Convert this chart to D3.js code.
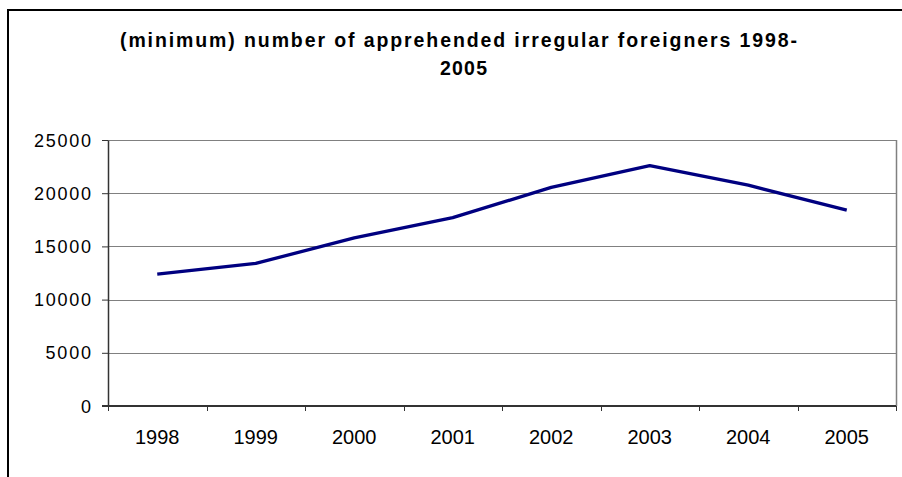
<!DOCTYPE html>
<html>
<head>
<meta charset="utf-8">
<script src="https://cdn.jsdelivr.net/npm/d3@7"></script>
<style>
  html, body { margin: 0; padding: 0; background: #fff; }
  svg { display: block; font-family: Arial, "Liberation Sans", sans-serif; }
</style>
</head>
<body>
<svg id="chart" width="902" height="477"></svg>
<script>
const years = ["1998", "1999", "2000", "2001", "2002", "2003", "2004", "2005"];
const apprehended = [12400, 13400, 15800, 17700, 20550, 22600, 20750, 18400];
const yTicks = [0, 5000, 10000, 15000, 20000, 25000];
const titleLines = ["(minimum) number of apprehended irregular foreigners 1998-", "2005"];

const svg = d3.select("#chart");
const W = 902, H = 477;
const plot = { left: 108, right: 896, top: 140, bottom: 406 };

svg.append("rect").attr("width", W).attr("height", H).attr("fill", "#fff");

// outer chart frame
svg.append("rect")
  .attr("x", 8).attr("y", 10)
  .attr("width", W + 20).attr("height", H + 20)
  .attr("fill", "none").attr("stroke", "#000").attr("stroke-width", 2);

// title
svg.append("text")
  .attr("x", 120).attr("y", 47)
  .attr("font-size", 19.5).attr("font-weight", "bold")
  .attr("textLength", 677).attr("lengthAdjust", "spacing")
  .text(titleLines[0]);
svg.append("text")
  .attr("x", 463.5).attr("y", 75)
  .attr("text-anchor", "middle")
  .attr("font-size", 19.5).attr("font-weight", "bold")
  .attr("textLength", 47).attr("lengthAdjust", "spacing")
  .text(titleLines[1]);

const x = d3.scaleBand().domain(years).range([plot.left, plot.right]).padding(0);
const y = d3.scaleLinear().domain([0, 25000]).range([plot.bottom, plot.top]);

// gridlines
svg.append("g").selectAll("line")
  .data(yTicks.filter(d => d > 0))
  .join("line")
  .attr("x1", plot.left).attr("x2", plot.right)
  .attr("y1", d => Math.round(y(d)) + 0.5).attr("y2", d => Math.round(y(d)) + 0.5)
  .attr("stroke", "#808080").attr("stroke-width", 1);

// right border of plot area
svg.append("line")
  .attr("x1", plot.right + 0.5).attr("x2", plot.right + 0.5)
  .attr("y1", plot.top).attr("y2", plot.bottom)
  .attr("stroke", "#808080").attr("stroke-width", 1.5);

// y axis
const yAxis = d3.axisLeft(y).tickValues(yTicks).tickSize(6).tickSizeOuter(0).tickPadding(11)
  .tickFormat(d3.format("d"));
const gy = svg.append("g").attr("transform", `translate(${plot.left},0)`).call(yAxis);
gy.select(".domain").attr("stroke", "#333").attr("stroke-width", 1.5);
gy.selectAll(".tick line").attr("stroke", "#333");
gy.selectAll(".tick text")
  .attr("font-family", "Arial, 'Liberation Sans', sans-serif")
  .attr("font-size", 18).attr("fill", "#000")
  .attr("dy", "0.34em")
  .attr("textLength", function(d) { return String(d).length * 11.4; })
  .attr("lengthAdjust", "spacing");

// x axis line
svg.append("line")
  .attr("x1", plot.left - 6).attr("x2", plot.right)
  .attr("y1", plot.bottom).attr("y2", plot.bottom)
  .attr("stroke", "#333").attr("stroke-width", 2);

// x ticks at category boundaries
const boundaries = years.map(d => x(d)).concat([x(years[years.length - 1]) + x.bandwidth()]);
svg.append("g").selectAll("line")
  .data(boundaries)
  .join("line")
  .attr("x1", d => Math.round(d) + 0.5).attr("x2", d => Math.round(d) + 0.5)
  .attr("y1", plot.bottom).attr("y2", plot.bottom + 5)
  .attr("stroke", "#333").attr("stroke-width", 1);

// x labels
svg.append("g").selectAll("text")
  .data(years)
  .join("text")
  .attr("x", d => x(d) + x.bandwidth() / 2)
  .attr("y", 444)
  .attr("text-anchor", "middle")
  .attr("font-size", 20)
  .attr("fill", "#000")
  .text(d => d);

// series line
const line = d3.line()
  .x((d, i) => x(years[i]) + x.bandwidth() / 2)
  .y(d => y(d));
svg.append("path")
  .datum(apprehended)
  .attr("d", line)
  .attr("fill", "none")
  .attr("stroke", "#000080")
  .attr("stroke-width", 3.3)
  .attr("stroke-linejoin", "round");
</script>
</body>
</html>
